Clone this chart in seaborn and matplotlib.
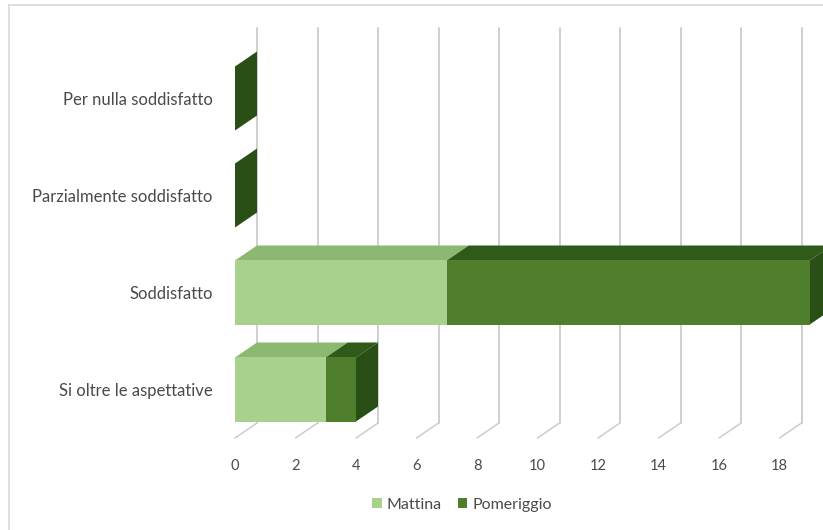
import matplotlib
matplotlib.use("Agg")
import matplotlib.pyplot as plt
from matplotlib.patches import Polygon, Patch
from matplotlib.lines import Line2D
import numpy as np
import pandas as pd
import seaborn as sns

# --- data -------------------------------------------------------------
categories = ["Per nulla soddisfatto", "Parzialmente soddisfatto",
              "Soddisfatto", "Si oltre le aspettative"]
mattina = [0, 0, 7, 3]
pomeriggio = [0, 0, 12, 1]
x_ticks = [0, 2, 4, 6, 8, 10, 12, 14, 16, 18]
series_names = ["Mattina", "Pomeriggio"]

# --- style ------------------------------------------------------------
sns.set_theme(style="white")
plt.rcParams["font.family"] = ["Lato", "DejaVu Sans"]

light_front, light_top = "#a9d18e", "#8db872"
dark_front, dark_top, dark_side = "#4f7f2c", "#2f5a1a", "#2a4f16"
text_col = "#4a4a4a"
grid_col = "#cccccc"

W, H = 823, 530
fig = plt.figure(figsize=(W / 100, H / 100), dpi=100)

# axes geometry in pixels: x=0 at 235 px, 30.25 px per unit; categories 97 px apart
px_per_x = 30.25
px_per_cat = 97.0
x0_px, floor_px, top_px = 235.0, 438.0, 28.0
xmax = 19.5
ymin_val = 3.5
ymax_val = ymin_val - (floor_px - top_px) / px_per_cat
ax = fig.add_axes([x0_px / W, 1 - floor_px / H,
                   xmax * px_per_x / W, (floor_px - top_px) / H])

df = pd.DataFrame({"cat": categories,
                   "mattina": mattina,
                   "total": np.add(mattina, pomeriggio)})

bar_h = 0.66
sns.barplot(data=df, x="total", y="cat", color=dark_front, width=bar_h,
            saturation=1, linewidth=0, edgecolor="none", ax=ax, zorder=3)
sns.barplot(data=df, x="mattina", y="cat", color=light_front, width=bar_h,
            saturation=1, linewidth=0, edgecolor="none", ax=ax, zorder=4)

ax.set_xlim(0, xmax)
ax.set_ylim(ymin_val, ymax_val)

# depth of the 3D effect, in data units
dx = 22 / px_per_x
dy = 15 / px_per_cat

# back-wall gridlines and floor lines
for t in x_ticks:
    ax.add_line(Line2D([t + dx, t + dx], [ymin_val - dy, ymax_val],
                       color=grid_col, lw=1.3, zorder=1, clip_on=False))
    ax.add_line(Line2D([t, t + dx], [ymin_val, ymin_val - dy],
                       color=grid_col, lw=1.1, zorder=1, clip_on=False))

# top and side faces of the bars
for i, (m, p) in enumerate(zip(mattina, pomeriggio)):
    ytop = i - bar_h / 2
    ybot = i + bar_h / 2
    tot = m + p
    if m > 0:
        ax.add_patch(Polygon([(0, ytop), (m, ytop), (m + dx, ytop - dy), (dx, ytop - dy)],
                             closed=True, facecolor=light_top, edgecolor="none",
                             zorder=2, clip_on=False))
    if p > 0:
        ax.add_patch(Polygon([(m, ytop), (tot, ytop), (tot + dx, ytop - dy), (m + dx, ytop - dy)],
                             closed=True, facecolor=dark_top, edgecolor="none",
                             zorder=2, clip_on=False))
    side_col = dark_side if p > 0 or tot == 0 else "#7fa863"
    ax.add_patch(Polygon([(tot, ytop), (tot, ybot), (tot + dx, ybot - dy), (tot + dx, ytop - dy)],
                         closed=True, facecolor=side_col, edgecolor="none",
                         zorder=2, clip_on=False))

# axes cosmetics
for s in ax.spines.values():
    s.set_visible(False)
ax.set_xlabel("")
ax.set_ylabel("")
ax.set_xticks(x_ticks)
ax.set_xticklabels([str(t) for t in x_ticks], color=text_col, fontsize=10.5)
ax.tick_params(axis="x", length=0, pad=15)
ax.set_yticks(range(len(categories)))
ax.set_yticklabels(categories, color=text_col, fontsize=12)
ax.tick_params(axis="y", length=0, pad=16)
ax.set_facecolor("none")

# legend
handles = [Patch(facecolor=light_front, edgecolor="none", label=series_names[0]),
           Patch(facecolor=dark_front, edgecolor="none", label=series_names[1])]
fig.legend(handles=handles, loc="center", bbox_to_anchor=(462 / W, 1 - 505 / H),
           ncol=2, frameon=False, fontsize=11.5, handlelength=0.6, handleheight=0.6,
           handletextpad=0.3, columnspacing=1.0, labelcolor=text_col)

# chart border
fig.add_artist(Line2D([9 / W, 9 / W], [0, 1 - 5 / H], color="#d9d9d9", lw=1.2))
fig.add_artist(Line2D([9 / W, 1], [1 - 5 / H, 1 - 5 / H], color="#d9d9d9", lw=1.2))

fig.savefig("out.png", dpi=100)
